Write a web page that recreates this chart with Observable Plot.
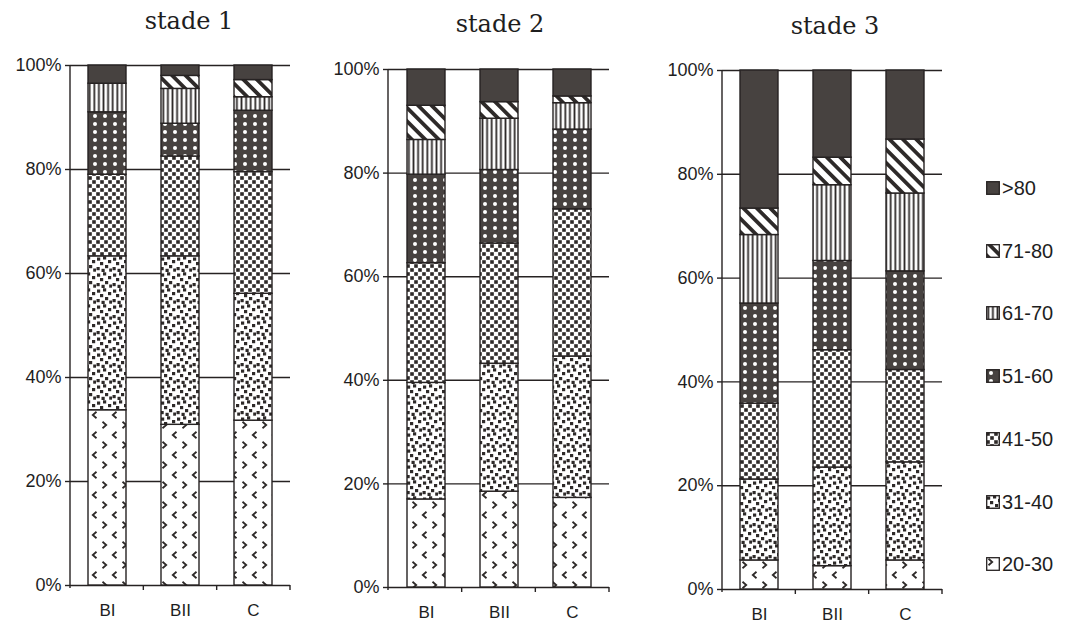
<!DOCTYPE html>
<html><head><meta charset="utf-8">
<script src="https://cdn.jsdelivr.net/npm/d3@7"></script>
<script src="https://cdn.jsdelivr.net/npm/@observablehq/plot@0.6"></script>
<style>
html,body{margin:0;padding:0;background:#fff;}
#chart{position:relative;width:1078px;height:623px;overflow:hidden;background:#fff;}
.panel{position:absolute;top:0;}
.title{position:absolute;font-family:"DejaVu Serif",serif;font-size:24px;color:#1e1e1e;transform:translateX(-50%);white-space:nowrap;line-height:1;}
.leg{position:absolute;display:flex;align-items:center;font-family:"Liberation Sans",Arial,sans-serif;font-size:20px;color:#1e1e1e;line-height:1;}
.leg svg{margin-right:2px}
</style></head><body>
<svg width="0" height="0" style="position:absolute">
<defs>
  <pattern id="pat0" patternUnits="userSpaceOnUse" width="20" height="20">
    <rect width="20" height="20" fill="#fff"/>
    <path d="M2.5,1.8 L6.2,5 L2.5,8.2" fill="none" stroke="#2e2a29" stroke-width="1.8"/>
    <path d="M16.5,11.8 L12.8,15 L16.5,18.2" fill="none" stroke="#2e2a29" stroke-width="1.8"/>
  </pattern>
  <pattern id="pat1" patternUnits="userSpaceOnUse" width="16" height="16">
    <rect width="16" height="16" fill="#fff"/>
    <g fill="#2e2a29">
      <rect x="1" y="1.5" width="3.2" height="3.2"/>
      <rect x="7" y="0.3" width="3.2" height="3.2"/>
      <rect x="12" y="4" width="3.2" height="3.2"/>
      <rect x="4" y="6" width="3.2" height="3.2"/>
      <rect x="9" y="9" width="3.2" height="3.2"/>
      <rect x="0.5" y="11" width="3.2" height="3.2"/>
      <rect x="13.2" y="12.5" width="2.8" height="3.2"/>
      <rect x="5.5" y="12.8" width="3.2" height="3.2"/>
    </g>
  </pattern>
  <pattern id="pat2" patternUnits="userSpaceOnUse" width="8" height="8">
    <rect width="8" height="8" fill="#fff"/>
    <rect x="0.2" y="0.2" width="3.6" height="3.6" fill="#2e2a29"/>
    <rect x="4.2" y="4.2" width="3.6" height="3.6" fill="#2e2a29"/>
  </pattern>
  <pattern id="pat3" patternUnits="userSpaceOnUse" width="10" height="8">
    <rect width="10" height="8" fill="#474240"/>
    <circle cx="5" cy="4" r="2" fill="#fff"/>
  </pattern>
  <pattern id="pat4" patternUnits="userSpaceOnUse" width="4.6" height="10">
    <rect width="4.6" height="10" fill="#fff"/>
    <rect x="1.4" width="1.8" height="10" fill="#2e2a29"/>
  </pattern>
  <pattern id="pat5" patternUnits="userSpaceOnUse" width="9.5" height="10" patternTransform="rotate(-45)">
    <rect width="9.5" height="10" fill="#fff"/>
    <rect x="0" width="3.8" height="10" fill="#2e2a29"/>
  </pattern>
  <pattern id="pat6" patternUnits="userSpaceOnUse" width="10" height="10">
    <rect width="10" height="10" fill="#474240"/>
  </pattern>
</defs></svg>
<div id="chart"></div>
<script>
// ---- data ----
const groups = ["BI", "BII", "C"];
const classes = ["20-30", "31-40", "41-50", "51-60", "61-70", "71-80", ">80"];
const stades = ["stade 1", "stade 2", "stade 3"];
const yTicks = [0, 20, 40, 60, 80, 100];

// percentages per age class (20-30 ... >80), one list per bar
const stade1BI  = [33.7, 29.6, 15.7, 12.0, 5.5, 0.0, 3.5];
const stade1BII = [30.9, 32.4, 19.2, 6.3, 6.7, 2.5, 2.0];
const stade1C   = [31.7, 24.4, 23.4, 11.8, 2.6, 3.3, 2.8];

const stade2BI  = [17.0, 22.5, 23.1, 17.1, 6.7, 6.6, 7.0];
const stade2BII = [18.5, 24.7, 23.2, 14.2, 9.9, 3.2, 6.3];
const stade2C   = [17.3, 27.3, 28.4, 15.4, 5.1, 1.3, 5.2];

const stade3BI  = [5.6, 15.6, 14.6, 19.3, 13.2, 5.1, 26.6];
const stade3BII = [4.5, 19.0, 22.6, 17.2, 14.6, 5.3, 16.8];
const stade3C   = [5.6, 18.9, 17.8, 19.0, 15.0, 10.4, 13.3];

// ---- styling / layout ----
const ink = "#262222";
const patternFills = classes.map((c, i) => `url(#pat${i})`);
const layouts = [
  {left: 0,   width: 310, ml: 70, mr: 20, mt: 65, mb: 38, tx: 189, ty: 9},
  {left: 310, width: 320, ml: 78, mr: 21, mt: 69, mb: 36, tx: 500, ty: 12},
  {left: 640, width: 310, ml: 82, mr: 8,  mt: 70, mb: 34, tx: 835, ty: 14}
];
const legendTop = 189, legendStep = 62.7, legendLeft = 986;

function toRows(lists) {
  return groups.flatMap((g, gi) => classes.map((c, ci) => ({group: g, cls: c, value: lists[gi][ci]})));
}
const panels = [
  toRows([stade1BI, stade1BII, stade1C]),
  toRows([stade2BI, stade2BII, stade2C]),
  toRows([stade3BI, stade3BII, stade3C])
];

// axis line on the left + category-boundary ticks on the bottom
function axisLines(index, scales, values, dims) {
  const {width, height, marginLeft, marginRight, marginTop, marginBottom} = dims;
  const y0 = height - marginBottom;
  const w = (width - marginLeft - marginRight) / groups.length;
  const g = d3.create("svg:g").attr("stroke", ink).attr("stroke-width", 1.4);
  g.append("line").attr("x1", marginLeft).attr("x2", marginLeft).attr("y1", marginTop).attr("y2", y0 + 3);
  for (let k = 1; k <= groups.length; k++) {
    g.append("line").attr("x1", marginLeft + k * w).attr("x2", marginLeft + k * w).attr("y1", y0).attr("y2", y0 + 5);
  }
  return g.node();
}

const root = document.getElementById("chart");
panels.forEach((rows, i) => {
  const L = layouts[i];
  const chart = Plot.plot({
    width: L.width, height: 623,
    marginLeft: L.ml, marginRight: L.mr, marginTop: L.mt, marginBottom: L.mb,
    style: {fontFamily: '"Liberation Sans", Arial, sans-serif', fontSize: "18px", color: "#1e1e1e", background: "transparent", overflow: "visible"},
    x: {domain: groups, paddingInner: 0.48, paddingOuter: 0.24},
    y: {domain: [0, 100]},
    color: {domain: classes, range: patternFills},
    marks: [
      Plot.ruleY(yTicks, {stroke: ink, strokeWidth: 1.4}),
      Plot.barY(rows, {x: "group", y: "value", fill: "cls", stroke: ink, strokeWidth: 1.4}),
      Plot.axisY({ticks: yTicks, tickFormat: d => d + "%", tickSize: 5, tickPadding: 4, stroke: ink, strokeWidth: 1.4, fontSize: 18, label: null}),
      Plot.axisX({tickSize: 0, tickPadding: 18, fontSize: 17, label: null}),
      axisLines
    ]
  });
  chart.classList.add("panel");
  chart.style.left = L.left + "px";
  root.appendChild(chart);
  const t = document.createElement("div");
  t.className = "title";
  t.textContent = stades[i];
  t.style.left = L.tx + "px";
  t.style.top = L.ty + "px";
  root.appendChild(t);
});

// legend (top item first: >80)
classes.slice().reverse().forEach((c, k) => {
  const idx = classes.indexOf(c);
  const d = document.createElement("div");
  d.className = "leg";
  d.style.left = legendLeft + "px";
  d.style.top = (legendTop + k * legendStep - 11) + "px";
  d.innerHTML = `<svg width="14" height="14"><rect x="0.7" y="0.7" width="12.6" height="12.6" fill="${patternFills[idx]}" stroke="${ink}" stroke-width="1.3"/></svg><span>${c}</span>`;
  root.appendChild(d);
});
</script>
</body></html>
